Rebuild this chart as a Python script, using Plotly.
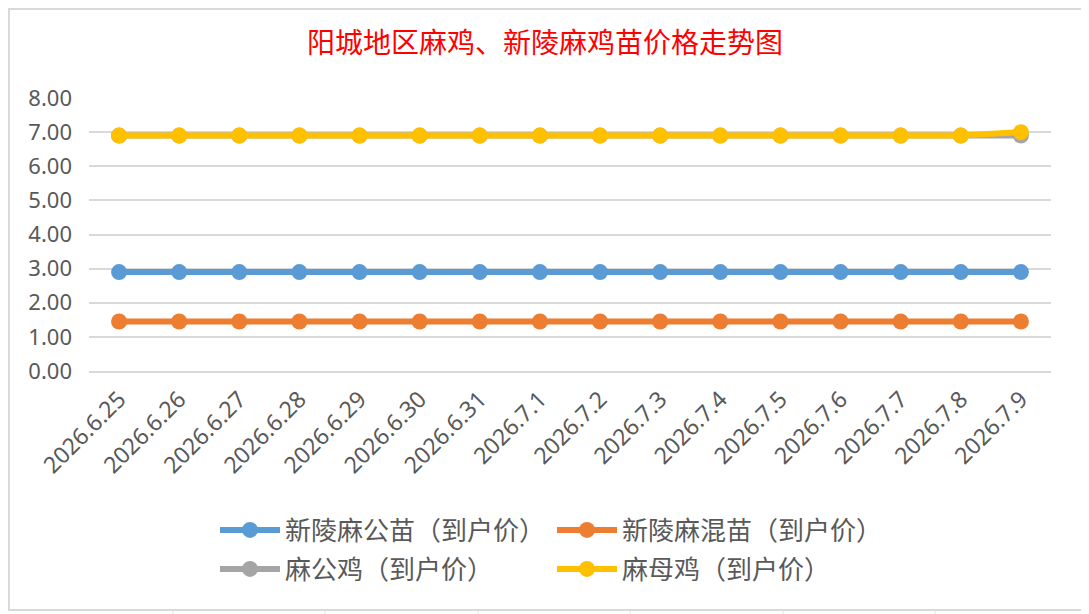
import plotly.graph_objects as go

# categories on the x axis (as printed in the chart)
dates = ['2026.6.25', '2026.6.26', '2026.6.27', '2026.6.28', '2026.6.29', '2026.6.30',
         '2026.6.31', '2026.7.1', '2026.7.2', '2026.7.3', '2026.7.4', '2026.7.5',
         '2026.7.6', '2026.7.7', '2026.7.8', '2026.7.9']

# prices (yuan)
gongmiao = [2.90, 2.90, 2.90, 2.90, 2.90, 2.90, 2.90, 2.90,
            2.90, 2.90, 2.90, 2.90, 2.90, 2.90, 2.90, 2.90]
hunmiao = [1.45, 1.45, 1.45, 1.45, 1.45, 1.45, 1.45, 1.45,
           1.45, 1.45, 1.45, 1.45, 1.45, 1.45, 1.45, 1.45]
gongji = [6.90, 6.90, 6.90, 6.90, 6.90, 6.90, 6.90, 6.90,
          6.90, 6.90, 6.90, 6.90, 6.90, 6.90, 6.90, 6.90]
muji = [6.90, 6.90, 6.90, 6.90, 6.90, 6.90, 6.90, 6.90,
        6.90, 6.90, 6.90, 6.90, 6.90, 6.90, 6.90, 7.00]

y_ticks = [0, 1, 2, 3, 4, 5, 6, 7, 8]

names = ['新陵麻公苗（到户价）', '新陵麻混苗（到户价）', '麻公鸡（到户价）', '麻母鸡（到户价）']
colors = ['#5B9BD5', '#ED7D31', '#A5A5A5', '#FFC000']
series = [gongmiao, hunmiao, gongji, muji]
legends = ['legend', 'legend', 'legend2', 'legend2']

W, H = 1089, 614
OFF = 8  # the page body margin shifts the figure by 8px
# plot area, in screen pixels of the target picture
L, R, T, B = 89 - OFF, 1051 - OFF, 98 - OFF, 371 - OFF

fig = go.Figure()
for name, col, vals, lg in zip(names, colors, series, legends):
    fig.add_trace(go.Scatter(
        x=dates, y=vals, name=name, mode='lines+markers',
        line=dict(color=col, width=6),
        marker=dict(color=col, size=16),
        legend=lg,
    ))


def px_x(p):
    # screen pixel -> paper x
    return (p - OFF - L) / (R - L)


def px_y(p):
    # screen pixel -> paper y
    return (B - (p - OFF)) / (B - T)


shapes = []
# faint spreadsheet cell lines showing around the chart
grid = '#E3E3E3'
for yy in [17, 60, 103, 145, 188, 232, 274, 317, 360, 403, 447, 489, 533, 576]:
    shapes.append(dict(type='line', xref='paper', yref='paper', x0=px_x(1083), x1=px_x(W),
                       y0=px_y(yy), y1=px_y(yy), line=dict(color=grid, width=1), layer='below'))
for xx in [173, 325, 478, 630, 783, 935]:
    shapes.append(dict(type='line', xref='paper', yref='paper', x0=px_x(xx), x1=px_x(xx),
                       y0=px_y(611), y1=px_y(H), line=dict(color=grid, width=1), layer='below'))
# chart border
shapes.append(dict(type='rect', xref='paper', yref='paper', x0=px_x(9), x1=px_x(1082),
                   y0=px_y(9), y1=px_y(610), line=dict(color='#D9D9D9', width=2), layer='below'))

legend_style = dict(orientation='h', xref='container', yref='container',
                    xanchor='left', yanchor='middle', entrywidth=262, entrywidthmode='pixels',
                    font=dict(family='Noto Sans CJK SC', size=26, color='#595959'),
                    bgcolor='rgba(0,0,0,0)', itemwidth=60, tracegroupgap=0)

fig.update_layout(
    width=W, height=H,
    margin=dict(l=L, r=W - R, t=T, b=H - B),
    paper_bgcolor='white', plot_bgcolor='white',
    title=dict(text='阳城地区麻鸡、新陵麻鸡苗价格走势图', x=(545 - OFF) / W, xanchor='center',
               y=1 - (43 - OFF) / H, yanchor='middle', xref='container', yref='container',
               font=dict(family='Noto Sans CJK SC', size=28, color='#FF0000')),
    xaxis=dict(type='category', range=[-0.5, len(dates) - 0.5], tickangle=-45,
               showgrid=False, showline=True, linecolor='#D9D9D9', linewidth=1.5,
               ticks='', ticklabelstandoff=4,
               tickfont=dict(family='Noto Sans', size=23, color='#595959')),
    yaxis=dict(range=[0, 8], tickvals=y_ticks, tickformat='.2f',
               showgrid=True, gridcolor='#D9D9D9', gridwidth=1.5, zeroline=False,
               showline=False, ticks='', ticklabelstandoff=16,
               tickfont=dict(family='Noto Sans', size=22, color='#595959')),
    legend=dict(x=(215 - OFF) / W, y=1 - (530 - OFF) / H, **legend_style),
    legend2=dict(x=(215 - OFF) / W, y=1 - (569 - OFF) / H, **legend_style),
    shapes=shapes,
    showlegend=True,
)

fig.write_html('out.html')
